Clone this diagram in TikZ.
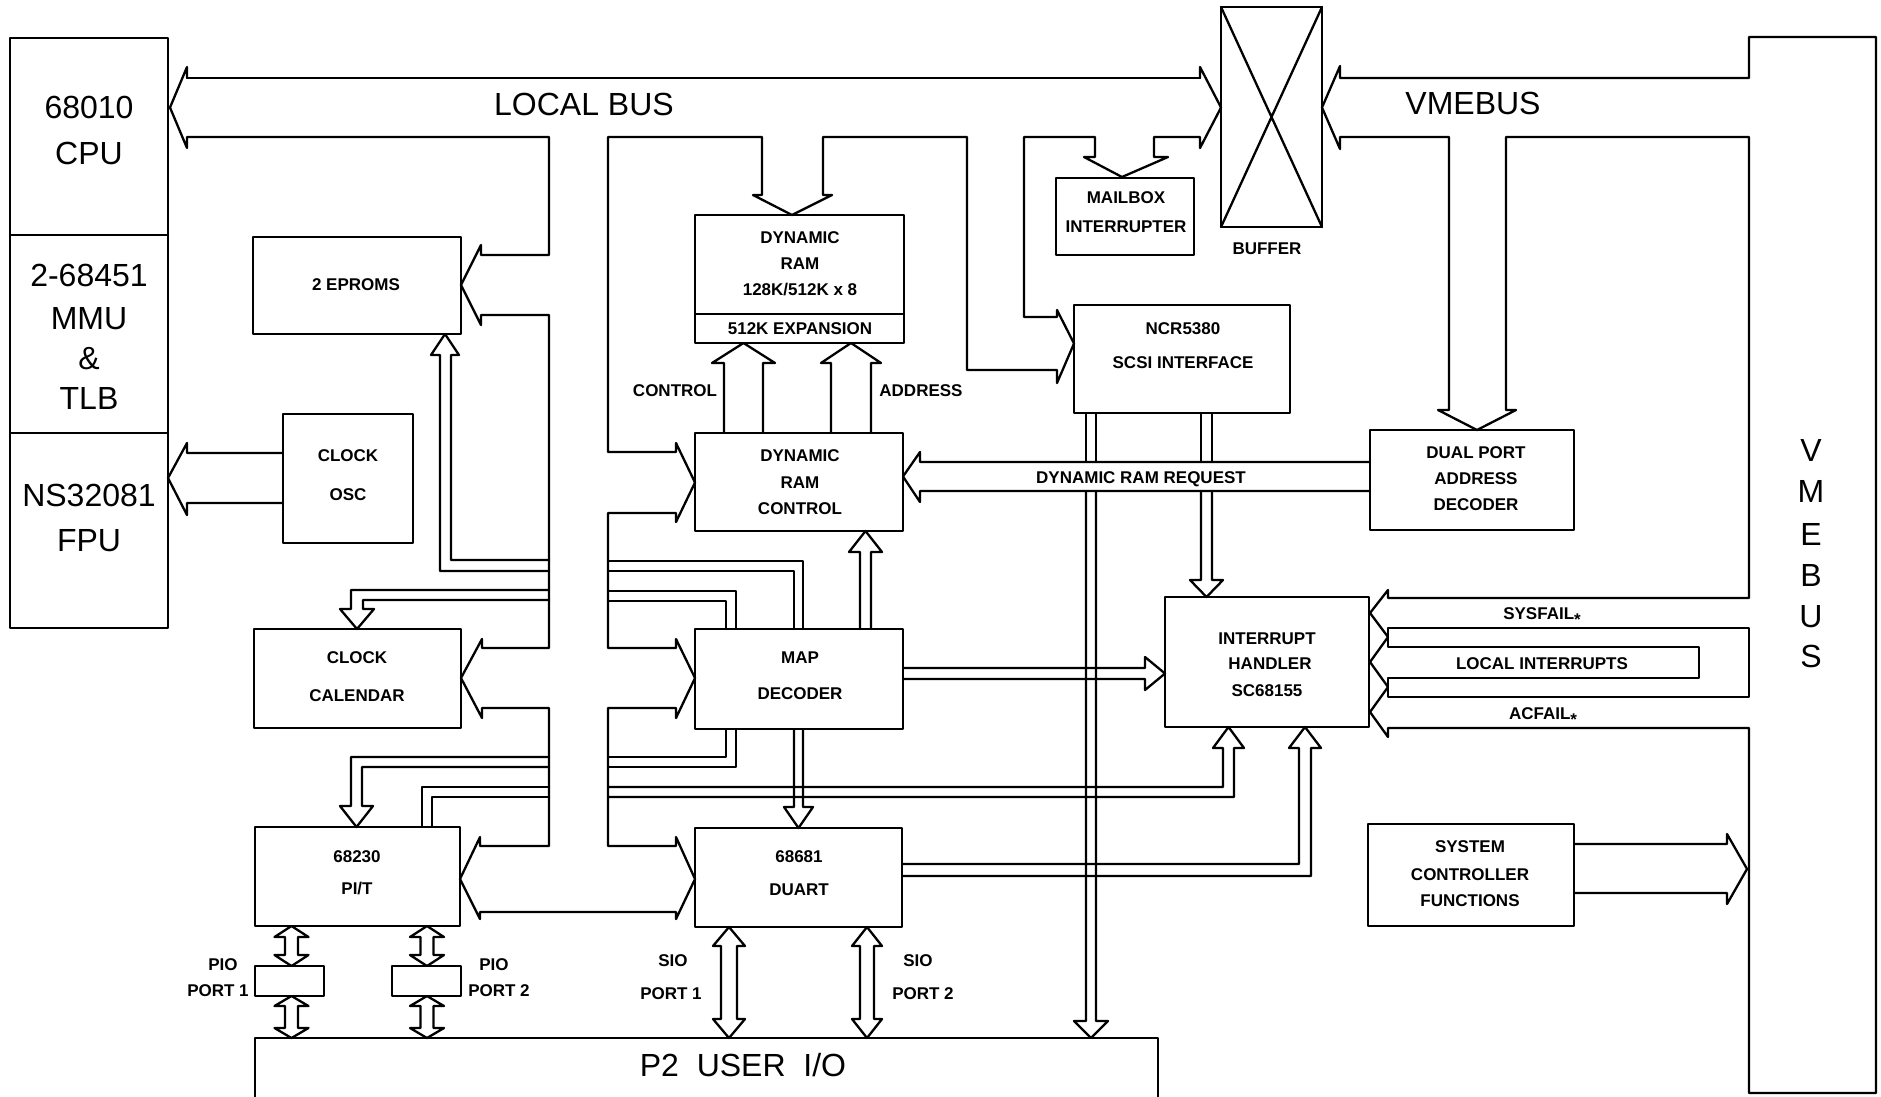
\documentclass[tikz,border=0pt]{standalone}
\usepackage{fontspec}
\setmainfont{Liberation Sans}
\newcommand\mybox[5]{\node[bx, minimum width={#4-#2}, minimum height={#5-#3}] (#1) at ({(#2+#4)/2},{(#3+#5)/2}) {};}
\newcommand\dblarr[6]{\draw ({#1-#4},{#2+#6})--({#1-#5},{#2+#6})--(#1,#2)--({#1+#5},{#2+#6})--({#1+#4},{#2+#6})--({#1+#4},{#3-#6})--({#1+#5},{#3-#6})--(#1,#3)--({#1-#5},{#3-#6})--({#1-#4},{#3-#6})--cycle;}
\newcommand\starmark{\raisebox{-6pt}{\fontsize{17}{17}\selectfont *}}
\begin{document}
\begin{tikzpicture}[x=1pt,y=-1pt, line width=2.3pt, line join=round, line cap=round,
  bx/.style={draw, line width=2.3pt, inner sep=0pt, outer sep=0pt},
  sm/.style={font=\fontsize{17}{17}\selectfont\bfseries, anchor=base, yshift=-6pt, inner sep=0pt},
  bg/.style={font=\fontsize{32}{32}\selectfont, anchor=base, yshift=-11.5pt, inner sep=0pt}]
\useasboundingbox (0,0) rectangle (1881,1096);

% ---------- boxes ----------
\mybox{cpu}{10}{38}{168}{628}
\draw (cpu.west |- 0,235) -- (cpu.east |- 0,235);
\draw (cpu.west |- 0,433) -- (cpu.east |- 0,433);
\mybox{eprom}{253}{237}{461}{334}
\mybox{osc}{283}{414}{413}{543}
\mybox{cal}{254}{629}{461}{728}
\mybox{pit}{255}{827}{460}{926}
\mybox{pioa}{255}{966}{324}{996}
\mybox{piob}{392}{966}{461}{996}
\mybox{dram}{695}{215}{904}{343}
\draw (dram.west |- 0,314) -- (dram.east |- 0,314);
\mybox{drc}{695}{433}{903}{531}
\mybox{map}{695}{629}{903}{729}
\mybox{duart}{695}{828}{902}{927}
\mybox{mail}{1056}{178}{1194}{255}
\mybox{buf}{1221}{7}{1322}{227}
\draw (buf.north west)--(buf.south east) (buf.north east)--(buf.south west);
\mybox{scsi}{1074}{305}{1290}{413}
\mybox{dpa}{1370}{430}{1574}{530}
\mybox{ih}{1165}{597}{1369}{727}
\mybox{sys}{1368}{824}{1574}{926}
\mybox{ptwo}{255}{1038}{1158}{1120}

% ---------- local bus ----------
\draw (187,78)--(1200,78);
\draw (187,78)--(187,67)--(170,107.5)--(187,148)--(187,137)--(549,137)--(549,255)--(481,255)--(481,245)--(461,285)--(481,325)--(481,315)--(549,315)--(549,648)--(482,648)--(482,639)--(461,678)--(482,718)--(482,708)--(549,708)--(549,846)--(480,846)--(480,837)--(460,879)--(480,919)--(480,912)--(676,912)--(676,919)--(695,879)--(676,837)--(676,846)--(608,846)--(608,708)--(676,708)--(676,718)--(695,678)--(676,639)--(676,648)--(608,648)--(608,513)--(676,513)--(676,522)--(695,482.5)--(676,443)--(676,452)--(608,452)--(608,137)--(762,137)--(762,195)--(753,195)--(792,215)--(832,195)--(823,195)--(823,137)--(967,137)--(967,370)--(1057,370)--(1057,383)--(1074,343.5)--(1057,310)--(1057,317)--(1024,317)--(1024,137)--(1095,137)--(1095,157)--(1084,157)--(1122,177)--(1168,157)--(1154,157)--(1154,137)--(1200,137)--(1200,148)--(1221,107.5)--(1200,67)--(1200,78);

% ---------- VMEbus ----------
\draw (1749,37)--(1749,78)--(1340,78)--(1340,66)--(1322,107.5)--(1340,149)--(1340,137)--(1449,137)--(1449,410)--(1438,410)--(1477,430)--(1516,410)--(1506,410)--(1506,137)--(1749,137)--(1749,598)--(1388,598)--(1388,590)--(1370,613)--(1388,637)--(1370,662)--(1388,687)--(1370,712)--(1388,737)--(1388,728)--(1749,728)--(1749,1093)--(1876,1093)--(1876,37)--cycle;
\draw (1388,628)--(1749,628)--(1749,697)--(1388,697)--(1388,678)--(1699,678)--(1699,647)--(1388,647)--cycle;

% ---------- branches left of bus ----------
\draw (549,560)--(451,560)--(451,355)--(459,355)--(445,334)--(431,355)--(440,355)--(440,571)--(549,571);
\draw (549,590)--(351,590)--(351,609)--(340,609)--(357,629)--(374,609)--(363,609)--(363,600)--(549,600);
\draw (549,757)--(351,757)--(351,806)--(340,806)--(356.5,827)--(373,806)--(362,806)--(362,767)--(549,767);
\draw (549,787)--(422,787)--(422,827);
\draw (549,797)--(432,797)--(432,827);

% ---------- branches right of bus ----------
\draw (608,561)--(803,561)--(803,629);
\draw (608,571)--(794,571)--(794,629);
\draw (608,591)--(736,591)--(736,629);
\draw (608,601)--(726,601)--(726,629);
\draw (726,729)--(726,757)--(608,757);
\draw (736,729)--(736,767)--(608,767);
\draw (608,787)--(1223,787)--(1223,748)--(1213,748)--(1228.5,727)--(1244,748)--(1234,748)--(1234,797)--(608,797);
\draw (794,729)--(794,807)--(784,807)--(798.5,828)--(813,807)--(803,807)--(803,729);
\draw (860,629)--(860,552)--(849,552)--(865.5,531)--(882,552)--(871,552)--(871,629);
\draw (724,433)--(724,363)--(712,363)--(743.5,343)--(775,363)--(763,363)--(763,433);
\draw (831,433)--(831,363)--(821,363)--(851,343)--(881,363)--(871,363)--(871,433);
\draw (903,668)--(1145,668)--(1145,657)--(1165,673.5)--(1145,690)--(1145,679)--(903,679);
\draw (1370,462)--(920,462)--(920,452)--(903,476.5)--(920,502)--(920,491)--(1370,491);
\draw (1086,413)--(1086,462) (1096,413)--(1096,462);
\draw (1086,491)--(1086,1021)--(1074,1021)--(1091,1038)--(1108,1021)--(1096,1021)--(1096,491);
\draw (1201,413)--(1201,462) (1212,413)--(1212,462);
\draw (1201,491)--(1201,580)--(1190,580)--(1206.5,597)--(1223,580)--(1212,580)--(1212,491);
\draw (902,864)--(1299,864)--(1299,748)--(1289,748)--(1305,727)--(1321,748)--(1311,748)--(1311,876)--(902,876);
\draw (1574,844)--(1727,844)--(1727,834)--(1747,869)--(1727,904)--(1727,893)--(1574,893);
\draw (283,453)--(187,453)--(187,443)--(168,478)--(187,515)--(187,503)--(283,503);

% ---------- double arrows ----------
\dblarr{291.5}{926}{966}{6.5}{17}{11}
\dblarr{291.5}{996}{1038}{6.5}{17}{10}
\dblarr{427}{926}{966}{6.5}{17}{11}
\dblarr{427}{996}{1038}{6.5}{17}{10}
\dblarr{729}{927}{1038}{8}{16}{19}
\dblarr{867}{927}{1038}{7}{15}{19}

% ---------- big labels ----------
\node[bg] (tcpua) at (89,107) {68010};
\node[bg] (tcpub) at (89,153) {CPU};
\node[bg] (tmmua) at (89,275) {2-68451};
\node[bg] (tmmub) at (89,318) {MMU};
\node[bg] (tmmuc) at (89,358) {\&};
\node[bg] (tmmud) at (89,398) {TLB};
\node[bg] (tfpua) at (89,495) {NS32081};
\node[bg] (tfpub) at (89,540) {FPU};
\node[bg] (tlocal) at (584,104) {LOCAL BUS};
\node[bg] (tvme) at (1473,103) {VMEBUS};
\node[bg] (vv) at (1811,450) {V};
\node[bg] (vm) at (1811,491) {M};
\node[bg] (ve) at (1811,534) {E};
\node[bg] (vb) at (1811,575) {B};
\node[bg] (vu) at (1811,616) {U};
\node[bg] (vs) at (1811,656) {S};
\node[bg] (tp2) at (743,1065) {P2\ \ USER\ \ I/O};

% ---------- small labels ----------
\node[sm] (te) at (356,284) {2 EPROMS};
\node[sm] (toa) at (348,455) {CLOCK};
\node[sm] (tob) at (348,494) {OSC};
\node[sm] (tca) at (357,657) {CLOCK};
\node[sm] (tcb) at (357,695) {CALENDAR};
\node[sm] (tpa) at (357,856) {68230};
\node[sm] (tpb) at (357,888) {PI/T};
\node[sm] (tpioa) at (223,964) {PIO};
\node[sm] (tpiob) at (218,990) {PORT 1};
\node[sm] (tpioc) at (494,964) {PIO};
\node[sm] (tpiod) at (499,990) {PORT 2};
\node[sm] (tsioa) at (673,960) {SIO};
\node[sm] (tsiob) at (671,993) {PORT 1};
\node[sm] (tsioc) at (918,960) {SIO};
\node[sm] (tsiod) at (923,993) {PORT 2};
\node[sm] (tda) at (800,237) {DYNAMIC};
\node[sm] (tdb) at (800,263) {RAM};
\node[sm] (tdc) at (800,289) {128K/512K x 8};
\node[sm] (tdd) at (800,328) {512K EXPANSION};
\node[sm] (tctl) at (675,390) {CONTROL};
\node[sm] (tadr) at (921,390) {ADDRESS};
\node[sm] (tra) at (800,455) {DYNAMIC};
\node[sm] (trb) at (800,482) {RAM};
\node[sm] (trc) at (800,508) {CONTROL};
\node[sm] (tma) at (800,657) {MAP};
\node[sm] (tmb) at (800,693) {DECODER};
\node[sm] (tua) at (799,856) {68681};
\node[sm] (tub) at (799,889) {DUART};
\node[sm] (tmaila) at (1126,197) {MAILBOX};
\node[sm] (tmailb) at (1126,226) {INTERRUPTER};
\node[sm] (tbuf) at (1267,248) {BUFFER};
\node[sm] (tsa) at (1183,328) {NCR5380};
\node[sm] (tsb) at (1183,362) {SCSI INTERFACE};
\node[sm] (treq) at (1141,477) {DYNAMIC RAM REQUEST};
\node[sm] (tdpa) at (1476,452) {DUAL PORT};
\node[sm] (tdpb) at (1476,478) {ADDRESS};
\node[sm] (tdpc) at (1476,504) {DECODER};
\node[sm] (tia) at (1267,638) {INTERRUPT};
\node[sm] (tib) at (1270,663) {HANDLER};
\node[sm] (tic) at (1267,690) {SC68155};
\node[sm] (tsf) at (1542,613) {SYSFAIL\starmark};
\node[sm] (tli) at (1542,663) {LOCAL INTERRUPTS};
\node[sm] (taf) at (1543,713) {ACFAIL\starmark};
\node[sm] (tya) at (1470,846) {SYSTEM};
\node[sm] (tyb) at (1470,874) {CONTROLLER};
\node[sm] (tyc) at (1470,900) {FUNCTIONS};
\end{tikzpicture}
\end{document}
